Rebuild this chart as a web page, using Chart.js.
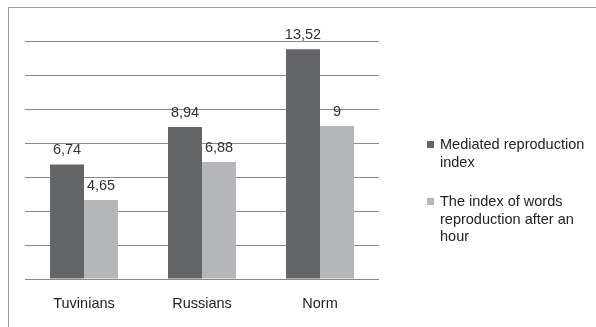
<!DOCTYPE html>
<html>
<head>
<meta charset="utf-8">
<script src="https://cdn.jsdelivr.net/npm/chart.js@4/dist/chart.umd.min.js"></script>
<style>
  html, body { margin: 0; padding: 0; background: #fff; }
  #wrap { position: relative; width: 596px; height: 327px; overflow: hidden; }
  #frame { position: absolute; left: 8px; top: 7px; width: 600px; height: 340px;
           border-left: 1px solid #a0a0a0; border-top: 1px solid #a0a0a0; }
  #chart { position: absolute; left: 0; top: 0; }
  #legend { position: absolute; left: 427px; top: 136px; width: 168px;
            font: 14.5px "Liberation Sans", Arial, sans-serif; color: #222; }
  .item { position: relative; padding-left: 13px; line-height: 17.5px; margin-bottom: 22px; width: 150px; }
  .item span.box { position: absolute; left: 0; top: 5px; width: 7px; height: 7px; }
</style>
</head>
<body>
<div id="wrap">
  <div id="frame"></div>
  <canvas id="chart" width="596" height="327"></canvas>
  <div id="legend"></div>
</div>
<script>
const categories = ["Tuvinians", "Russians", "Norm"];
const mediated = [6.74, 8.94, 13.52];
const afterHour = [4.65, 6.88, 9];
const seriesNames = ["Mediated reproduction index", "The index of words reproduction after an hour"];
const colors = ["#646567", "#b5b6b9"];

const valueLabels = {
  id: "valueLabels",
  afterDatasetsDraw(chart) {
    const ctx = chart.ctx;
    ctx.save();
    ctx.font = '14.5px "Liberation Sans", Arial, sans-serif';
    ctx.fillStyle = "#333";
    ctx.textAlign = "center";
    ctx.textBaseline = "alphabetic";
    chart.data.datasets.forEach((ds, i) => {
      chart.getDatasetMeta(i).data.forEach((bar, j) => {
        ctx.fillText(String(ds.data[j]).replace(".", ","), bar.x, bar.y - 10);
      });
    });
    ctx.restore();
  }
};

const chart = new Chart(document.getElementById("chart"), {
  type: "bar",
  data: {
    labels: categories,
    datasets: [
      { label: seriesNames[0], data: mediated, backgroundColor: colors[0] },
      { label: seriesNames[1], data: afterHour, backgroundColor: colors[1] }
    ]
  },
  options: {
    responsive: false,
    animation: false,
    layout: { padding: { left: 25, right: 217, top: 41, bottom: 0 } },
    plugins: { legend: { display: false }, tooltip: { enabled: false } },
    datasets: { bar: { barPercentage: 1, categoryPercentage: 0.576 } },
    scales: {
      x: {
        grid: { display: false, drawTicks: false },
        border: { display: false },
        ticks: { color: "#222", padding: 16, font: { family: '"Liberation Sans", Arial, sans-serif', size: 14.5 } },
        afterFit(scale) { scale.height = 48; }
      },
      y: {
        min: 0,
        max: 14,
        ticks: { stepSize: 2, display: false },
        grid: { color: "#8a8a8a", lineWidth: 1, drawTicks: false },
        border: { display: false },
        afterFit(scale) { scale.width = 0; }
      }
    }
  },
  plugins: [valueLabels]
});

const legend = document.getElementById("legend");
chart.data.datasets.forEach(ds => {
  const item = document.createElement("div");
  item.className = "item";
  const box = document.createElement("span");
  box.className = "box";
  box.style.background = ds.backgroundColor;
  item.appendChild(box);
  item.appendChild(document.createTextNode(ds.label));
  legend.appendChild(item);
});
</script>
</body>
</html>
